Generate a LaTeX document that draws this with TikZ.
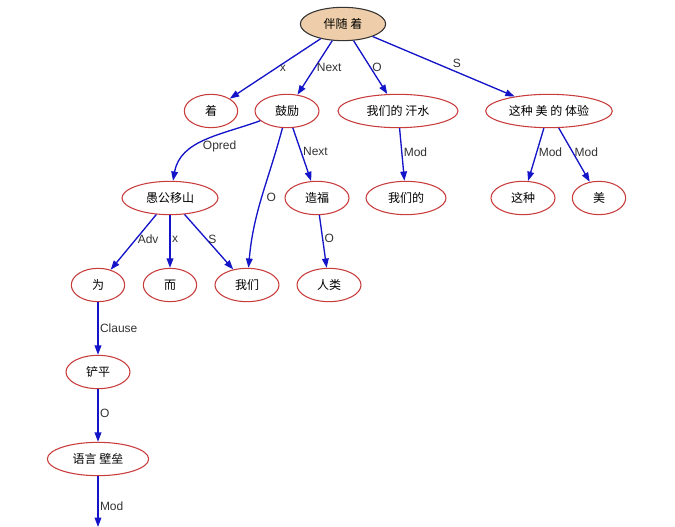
\documentclass[tikz,border=0pt]{standalone}
\usepackage{fontspec}
\setmainfont{Liberation Sans}
\newfontfamily\cjk{Noto Sans CJK SC}
\usetikzlibrary{shapes.geometric,arrows.meta}
\definecolor{edgeblue}{RGB}{20,20,200}
\definecolor{ringred}{RGB}{200,60,60}
\definecolor{rootfill}{RGB}{238,206,170}

\begin{document}
\begin{tikzpicture}[x=0.75pt,y=-0.75pt,
  word/.style={draw=ringred,line width=0.8pt,ellipse,inner sep=0pt,minimum height=25pt,font=\cjk\small},
  rootword/.style={word,draw=black!80,fill=rootfill},
  dep/.style={draw=edgeblue,line width=1pt,-{Triangle[length=7pt,width=5pt]}},
  lab/.style={font=\small,text=black!80,inner sep=1pt}]

  \useasboundingbox (0,0) rectangle (675,527);

  % nodes
  \node[rootword,minimum width=64pt] (banzhe) at (343,24) {伴随 着};
  \node[word,minimum width=40pt] (zhe) at (211,111) {着};
  \node[word,minimum width=48pt] (guli) at (287,111) {鼓励};
  \node[word,minimum width=90pt] (hanshui) at (398,111) {我们的 汗水};
  \node[word,minimum width=95pt] (tiyan) at (549,111) {这种 美 的 体验};
  \node[word,minimum width=72pt] (yugong) at (170,198) {愚公移山};
  \node[word,minimum width=48pt] (zaofu) at (317,198) {造福};
  \node[word,minimum width=60pt] (womende) at (406,198) {我们的};
  \node[word,minimum width=48pt] (zhezhong) at (523,198) {这种};
  \node[word,minimum width=40pt] (mei) at (599,198) {美};
  \node[word,minimum width=40pt] (wei) at (98,285) {为};
  \node[word,minimum width=40pt] (er) at (170,285) {而};
  \node[word,minimum width=48pt] (women) at (247,285) {我们};
  \node[word,minimum width=48pt] (renlei) at (329,285) {人类};
  \node[word,minimum width=48pt] (chanping) at (98,372) {铲平};
  \node[word,minimum width=76pt] (biqian) at (98,459) {语言 壁垒};
  \coordinate (below) at (98,527);

  % edges
  \draw[dep] (banzhe) -- node[lab,pos=0.5,right=2pt] {x} (zhe);
  \draw[dep] (banzhe) -- node[lab,pos=0.5,right] {Next} (guli);
  \draw[dep] (banzhe) -- node[lab,pos=0.5,right] {O} (hanshui);
  \draw[dep] (banzhe) -- node[lab,pos=0.55,above right] {S} (tiyan);
  \draw[dep] (guli) to[out=200,in=80] node[lab,pos=0.6,right=4pt] {Opred} (yugong);
  \draw[dep] (guli) to[out=-105,in=85] node[lab,pos=0.5,right=2pt] {O} (women);
  \draw[dep] (guli) -- node[lab,pos=0.45,right] {Next} (zaofu);
  \draw[dep] (hanshui) -- node[lab,pos=0.45,right] {Mod} (womende);
  \draw[dep] (tiyan) -- node[lab,pos=0.45,right] {Mod} (zhezhong);
  \draw[dep] (tiyan) -- node[lab,pos=0.45,right] {Mod} (mei);
  \draw[dep] (yugong) -- node[lab,pos=0.45,right] {Adv} (wei);
  \draw[dep] (yugong) -- node[lab,pos=0.45,right] {x} (er);
  \draw[dep] (yugong) -- node[lab,pos=0.45,right] {S} (women);
  \draw[dep] (zaofu) -- node[lab,pos=0.45,right] {O} (renlei);
  \draw[dep] (wei) -- node[lab,pos=0.5,right] {Clause} (chanping);
  \draw[dep] (chanping) -- node[lab,pos=0.45,right] {O} (biqian);
  \draw[dep] (biqian) -- node[lab,pos=0.6,right] {Mod} (below);
\end{tikzpicture}
\end{document}
